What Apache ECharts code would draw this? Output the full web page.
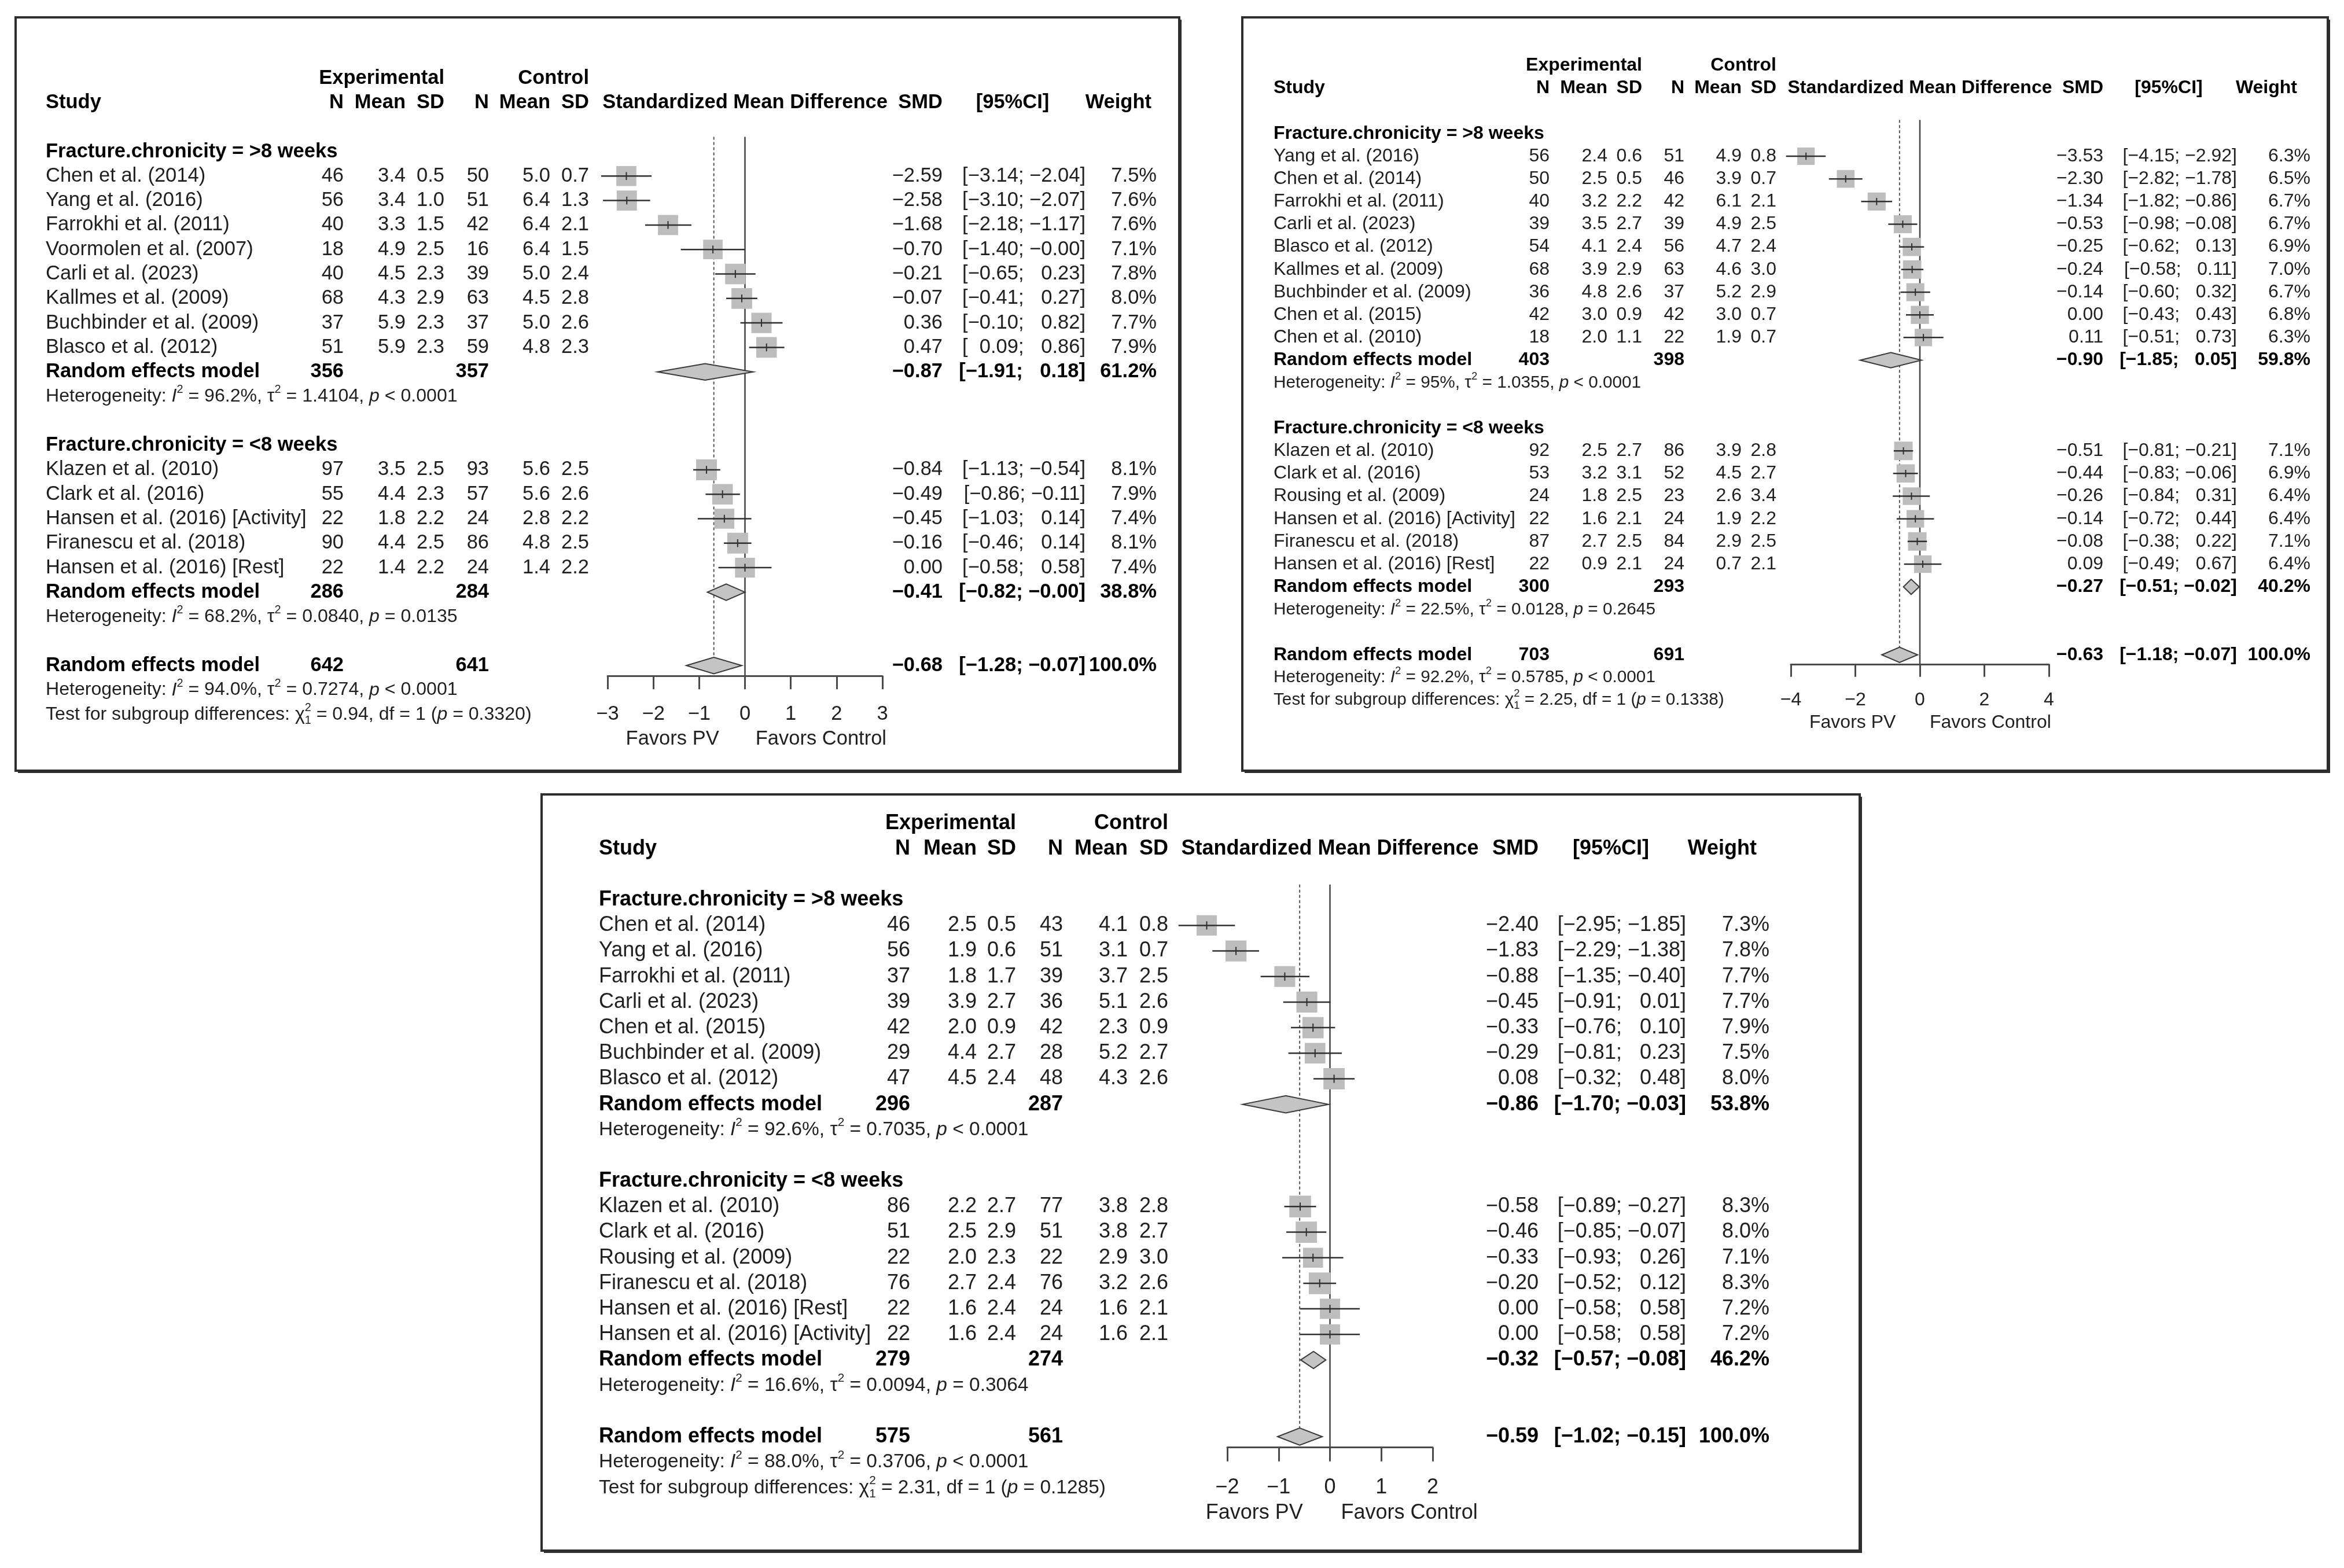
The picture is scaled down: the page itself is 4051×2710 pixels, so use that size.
<!DOCTYPE html>
<html><head><meta charset="utf-8">
<script src="https://cdn.jsdelivr.net/npm/echarts@6/dist/echarts.min.js"></script>
<style>html,body{margin:0;padding:0;background:#fff}#c{width:4051px;height:2710px}</style>
</head><body><div id="c"></div>
<script>
// ================= DATA =================
const subgroupLabels = ['Fracture.chronicity = >8 weeks', 'Fracture.chronicity = <8 weeks'];
const favorsLabels = ['Favors PV', 'Favors Control'];

// ---- Panel 1 (top left) ----
const p1GroupSizes = [8, 5];
const p1Studies = ['Chen et al. (2014)','Yang et al. (2016)','Farrokhi et al. (2011)','Voormolen et al. (2007)','Carli et al. (2023)','Kallmes et al. (2009)','Buchbinder et al. (2009)','Blasco et al. (2012)','Klazen et al. (2010)','Clark et al. (2016)','Hansen et al. (2016) [Activity]','Firanescu et al. (2018)','Hansen et al. (2016) [Rest]'];
const p1ExpN = [46,56,40,18,40,68,37,51,97,55,22,90,22];
const p1ExpMean = [3.4,3.4,3.3,4.9,4.5,4.3,5.9,5.9,3.5,4.4,1.8,4.4,1.4];
const p1ExpSD = [0.5,1.0,1.5,2.5,2.3,2.9,2.3,2.3,2.5,2.3,2.2,2.5,2.2];
const p1CtlN = [50,51,42,16,39,63,37,59,93,57,24,86,24];
const p1CtlMean = [5.0,6.4,6.4,6.4,5.0,4.5,5.0,4.8,5.6,5.6,2.8,4.8,1.4];
const p1CtlSD = [0.7,1.3,2.1,1.5,2.4,2.8,2.6,2.3,2.5,2.6,2.2,2.5,2.2];
const p1SMD = [-2.59,-2.58,-1.68,-0.70,-0.21,-0.07,0.36,0.47,-0.84,-0.49,-0.45,-0.16,0.00];
const p1Lower = [-3.14,-3.10,-2.18,-1.40,-0.65,-0.41,-0.10,0.09,-1.13,-0.86,-1.03,-0.46,-0.58];
const p1Upper = [-2.04,-2.07,-1.17,-0.00,0.23,0.27,0.82,0.86,-0.54,-0.11,0.14,0.14,0.58];
const p1Weight = [7.5,7.6,7.6,7.1,7.8,8.0,7.7,7.9,8.1,7.9,7.4,8.1,7.4];
// summaries: [subgroup 1, subgroup 2, overall]
const p1SumExpN = [356,286,642];
const p1SumCtlN = [357,284,641];
const p1SumSMD = [-0.87,-0.41,-0.68];
const p1SumLower = [-1.91,-0.82,-1.28];
const p1SumUpper = [0.18,-0.00,-0.07];
const p1SumWeight = [61.2,38.8,100.0];
const p1HetI2 = ['96.2%','68.2%','94.0%'];
const p1HetTau2 = ['1.4104','0.0840','0.7274'];
const p1HetP = ['< 0.0001','= 0.0135','< 0.0001'];
const p1TestChi2 = '0.94';
const p1TestP = '0.3320';
const p1AxisRange = [-3, 3, 1];

// ---- Panel 2 (top right) ----
const p2GroupSizes = [9, 6];
const p2Studies = ['Yang et al. (2016)','Chen et al. (2014)','Farrokhi et al. (2011)','Carli et al. (2023)','Blasco et al. (2012)','Kallmes et al. (2009)','Buchbinder et al. (2009)','Chen et al. (2015)','Chen et al. (2010)','Klazen et al. (2010)','Clark et al. (2016)','Rousing et al. (2009)','Hansen et al. (2016) [Activity]','Firanescu et al. (2018)','Hansen et al. (2016) [Rest]'];
const p2ExpN = [56,50,40,39,54,68,36,42,18,92,53,24,22,87,22];
const p2ExpMean = [2.4,2.5,3.2,3.5,4.1,3.9,4.8,3.0,2.0,2.5,3.2,1.8,1.6,2.7,0.9];
const p2ExpSD = [0.6,0.5,2.2,2.7,2.4,2.9,2.6,0.9,1.1,2.7,3.1,2.5,2.1,2.5,2.1];
const p2CtlN = [51,46,42,39,56,63,37,42,22,86,52,23,24,84,24];
const p2CtlMean = [4.9,3.9,6.1,4.9,4.7,4.6,5.2,3.0,1.9,3.9,4.5,2.6,1.9,2.9,0.7];
const p2CtlSD = [0.8,0.7,2.1,2.5,2.4,3.0,2.9,0.7,0.7,2.8,2.7,3.4,2.2,2.5,2.1];
const p2SMD = [-3.53,-2.30,-1.34,-0.53,-0.25,-0.24,-0.14,0.00,0.11,-0.51,-0.44,-0.26,-0.14,-0.08,0.09];
const p2Lower = [-4.15,-2.82,-1.82,-0.98,-0.62,-0.58,-0.60,-0.43,-0.51,-0.81,-0.83,-0.84,-0.72,-0.38,-0.49];
const p2Upper = [-2.92,-1.78,-0.86,-0.08,0.13,0.11,0.32,0.43,0.73,-0.21,-0.06,0.31,0.44,0.22,0.67];
const p2Weight = [6.3,6.5,6.7,6.7,6.9,7.0,6.7,6.8,6.3,7.1,6.9,6.4,6.4,7.1,6.4];
const p2SumExpN = [403,300,703];
const p2SumCtlN = [398,293,691];
const p2SumSMD = [-0.90,-0.27,-0.63];
const p2SumLower = [-1.85,-0.51,-1.18];
const p2SumUpper = [0.05,-0.02,-0.07];
const p2SumWeight = [59.8,40.2,100.0];
const p2HetI2 = ['95%','22.5%','92.2%'];
const p2HetTau2 = ['1.0355','0.0128','0.5785'];
const p2HetP = ['< 0.0001','= 0.2645','< 0.0001'];
const p2TestChi2 = '2.25';
const p2TestP = '0.1338';
const p2AxisRange = [-4, 4, 2];

// ---- Panel 3 (bottom) ----
const p3GroupSizes = [7, 6];
const p3Studies = ['Chen et al. (2014)','Yang et al. (2016)','Farrokhi et al. (2011)','Carli et al. (2023)','Chen et al. (2015)','Buchbinder et al. (2009)','Blasco et al. (2012)','Klazen et al. (2010)','Clark et al. (2016)','Rousing et al. (2009)','Firanescu et al. (2018)','Hansen et al. (2016) [Rest]','Hansen et al. (2016) [Activity]'];
const p3ExpN = [46,56,37,39,42,29,47,86,51,22,76,22,22];
const p3ExpMean = [2.5,1.9,1.8,3.9,2.0,4.4,4.5,2.2,2.5,2.0,2.7,1.6,1.6];
const p3ExpSD = [0.5,0.6,1.7,2.7,0.9,2.7,2.4,2.7,2.9,2.3,2.4,2.4,2.4];
const p3CtlN = [43,51,39,36,42,28,48,77,51,22,76,24,24];
const p3CtlMean = [4.1,3.1,3.7,5.1,2.3,5.2,4.3,3.8,3.8,2.9,3.2,1.6,1.6];
const p3CtlSD = [0.8,0.7,2.5,2.6,0.9,2.7,2.6,2.8,2.7,3.0,2.6,2.1,2.1];
const p3SMD = [-2.40,-1.83,-0.88,-0.45,-0.33,-0.29,0.08,-0.58,-0.46,-0.33,-0.20,0.00,0.00];
const p3Lower = [-2.95,-2.29,-1.35,-0.91,-0.76,-0.81,-0.32,-0.89,-0.85,-0.93,-0.52,-0.58,-0.58];
const p3Upper = [-1.85,-1.38,-0.40,0.01,0.10,0.23,0.48,-0.27,-0.07,0.26,0.12,0.58,0.58];
const p3Weight = [7.3,7.8,7.7,7.7,7.9,7.5,8.0,8.3,8.0,7.1,8.3,7.2,7.2];
const p3SumExpN = [296,279,575];
const p3SumCtlN = [287,274,561];
const p3SumSMD = [-0.86,-0.32,-0.59];
const p3SumLower = [-1.70,-0.57,-1.02];
const p3SumUpper = [-0.03,-0.08,-0.15];
const p3SumWeight = [53.8,46.2,100.0];
const p3HetI2 = ['92.6%','16.6%','88.0%'];
const p3HetTau2 = ['0.7035','0.0094','0.3706'];
const p3HetP = ['< 0.0001','= 0.3064','< 0.0001'];
const p3TestChi2 = '2.31';
const p3TestP = '0.1285';
const p3AxisRange = [-2, 2, 1];

// ================= ASSEMBLY =================
const panelsData = [
  {g:p1GroupSizes, st:p1Studies, eN:p1ExpN, eM:p1ExpMean, eS:p1ExpSD, cN:p1CtlN, cM:p1CtlMean, cS:p1CtlSD, te:p1SMD, lo:p1Lower, up:p1Upper, w:p1Weight,
   sEN:p1SumExpN, sCN:p1SumCtlN, sTE:p1SumSMD, sLo:p1SumLower, sUp:p1SumUpper, sW:p1SumWeight, hI:p1HetI2, hT:p1HetTau2, hP:p1HetP, chi:p1TestChi2, chiP:p1TestP, ax:p1AxisRange},
  {g:p2GroupSizes, st:p2Studies, eN:p2ExpN, eM:p2ExpMean, eS:p2ExpSD, cN:p2CtlN, cM:p2CtlMean, cS:p2CtlSD, te:p2SMD, lo:p2Lower, up:p2Upper, w:p2Weight,
   sEN:p2SumExpN, sCN:p2SumCtlN, sTE:p2SumSMD, sLo:p2SumLower, sUp:p2SumUpper, sW:p2SumWeight, hI:p2HetI2, hT:p2HetTau2, hP:p2HetP, chi:p2TestChi2, chiP:p2TestP, ax:p2AxisRange},
  {g:p3GroupSizes, st:p3Studies, eN:p3ExpN, eM:p3ExpMean, eS:p3ExpSD, cN:p3CtlN, cM:p3CtlMean, cS:p3CtlSD, te:p3SMD, lo:p3Lower, up:p3Upper, w:p3Weight,
   sEN:p3SumExpN, sCN:p3SumCtlN, sTE:p3SumSMD, sLo:p3SumLower, sUp:p3SumUpper, sW:p3SumWeight, hI:p3HetI2, hT:p3HetTau2, hP:p3HetP, chi:p3TestChi2, chiP:p3TestP, ax:p3AxisRange}
];

// layout (pixels)
const W = 4051, H = 2710;
const layouts = [
  {box:[27,30,2038,1332], r0:262, r:42.3, fs:34.5, px:[1050,1525], sq:36, sqRef:8.1,
   col:{study:79, eN:594, eM:701, eS:768, cN:845, cM:951, cS:1018, smd:1629, ci:1876, ciHead:1750, w:1999, wHead:1990}},
  {box:[2147,30,4023,1332], r0:230.8, r:39.17, fs:32, px:[3095,3541], sq:32, sqRef:7.1,
   col:{study:2201, eN:2678, eM:2778, eS:2838, cN:2911, cM:3010, cS:3070, smd:3635, ci:3866, ciHead:3748, w:3993, wHead:3970}},
  {box:[936,1373,3214,2680], r0:1555.2, r:44.18, fs:36, px:[2121,2476], sq:37.5, sqRef:8.3,
   col:{study:1035, eN:1573, eM:1688, eS:1756, cN:1837, cM:1949, cS:2019, smd:2659, ci:2914, ciHead:2784, w:3058, wHead:3036}}
];

const FAM = '"Liberation Sans", Arial, Helvetica, sans-serif';
const MINUS = '\u2212';
const isNeg = v => v < 0 || Object.is(v, -0);
const fmt = (v, d) => (isNeg(v) ? MINUS : '') + Math.abs(v).toFixed(d);
const TXT = '#1f1f1f', BOLD = '#000';
const mctx = document.createElement('canvas').getContext('2d');
function measure(s, size, bold, italic) {
  mctx.font = (italic ? 'italic ' : '') + (bold ? 'bold ' : '') + size + 'px ' + FAM;
  return mctx.measureText(s).width;
}
function segText(ch, x0, y, size, list, align) {
  const items = list.map(sg => {
    const sz = (sg.sup || sg.sub) ? size * 0.62 : size;
    return {sg, sz, w: measure(sg.t, sz, sg.b, sg.it)};
  });
  const total = items.reduce((a, it) => a + (it.sg.stack ? 0 : it.w), 0);
  let x = align === 'right' ? x0 - total : x0;
  for (const it of items) {
    const dy = it.sg.sup ? -size * 0.36 : it.sg.sub ? size * 0.34 : 0;
    if (!it.sg.hidden) ch.push({type:'text', x:x, y:y + dy, silent:true, style:{text:it.sg.t, fontFamily:FAM, fontSize:it.sz,
      fontWeight: it.sg.b ? 'bold' : 'normal', fontStyle: it.sg.it ? 'italic' : 'normal', fill: it.sg.b ? BOLD : TXT, align:'left', verticalAlign:'middle'}});
    if (!it.sg.stack) x += it.w;
  }
}
function rowPlan(g) {
  const plan = {groups: []};
  let row = 0, k = 0;
  for (let gi = 0; gi < g.length; gi++) {
    const grp = {header: row, studies: [], sum: 0, het: 0};
    for (let j = 0; j < g[gi]; j++) grp.studies.push({idx: k++, row: row + 1 + j});
    grp.sum = row + g[gi] + 1;
    grp.het = grp.sum + 1;
    row = grp.het + 2;
    plan.groups.push(grp);
  }
  plan.overall = row; plan.het = row + 1; plan.test = row + 2;
  plan.axis = row + 0.42;
  return plan;
}

function makeRender(D, L, plan) {
  return function (params, api) {
    const ch = [];
    const fs = L.fs, hs = fs * 0.93, r = L.r;
    const X = v => api.coord([v, 0])[0];
    const Y = row => api.coord([D.ax[0], row])[1];
    const T = (x, row, s, o) => {
      o = o || {};
      ch.push({type:'text', x:x, y:Y(row), silent:true, style:{text:s, fontFamily:FAM, fontSize:o.size || fs,
        fontWeight:o.bold ? 'bold' : 'normal', fill:o.bold ? BOLD : TXT, align:o.align || 'right', verticalAlign:'middle'}});
    };
    const C = L.col;
    const ciSegs = (lo, up, b) => [
      {t:'[', b:b}, {t:MINUS, b:b, hidden:!isNeg(lo)}, {t:Math.abs(lo).toFixed(2) + '; ', b:b},
      {t:MINUS, b:b, hidden:!isNeg(up)}, {t:Math.abs(up).toFixed(2) + ']', b:b}];

    // reference lines
    const x0 = X(0), xo = X(D.sTE[2]);
    const dh = 0.67 * r;
    ch.push({type:'line', silent:true, shape:{x1:x0, y1:Y(-0.6), x2:x0, y2:Y(plan.axis)}, style:{stroke:'#444', lineWidth:2.5}});
    ch.push({type:'line', silent:true, shape:{x1:xo, y1:Y(-0.6), x2:xo, y2:Y(plan.overall) - dh / 2}, style:{stroke:'#555', lineWidth:2, lineDash:[5,4]}});

    // headers
    T(C.eS, -3, 'Experimental', {bold:true});
    T(C.cS, -3, 'Control', {bold:true});
    T(C.study, -2, 'Study', {bold:true, align:'left'});
    T(C.eN, -2, 'N', {bold:true}); T(C.eM, -2, 'Mean', {bold:true}); T(C.eS, -2, 'SD', {bold:true});
    T(C.cN, -2, 'N', {bold:true}); T(C.cM, -2, 'Mean', {bold:true}); T(C.cS, -2, 'SD', {bold:true});
    T(X((D.ax[0] + D.ax[1]) / 2), -2, 'Standardized Mean Difference', {bold:true, align:'center'});
    T(C.smd, -2, 'SMD', {bold:true});
    T(C.ciHead, -2, '[95%CI]', {bold:true, align:'center'});
    T(C.wHead, -2, 'Weight', {bold:true});

    const diamond = (te, lo, up, row) => {
      const y = Y(row);
      ch.push({type:'polygon', silent:true, shape:{points:[[X(lo), y], [X(te), y - dh / 2], [X(up), y], [X(te), y + dh / 2]]},
        style:{fill:'#c4c4c4', stroke:'#3a3a3a', lineWidth:2}});
    };
    const summaryText = (k, row, label) => {
      T(C.study, row, label, {bold:true, align:'left'});
      T(C.eN, row, String(D.sEN[k]), {bold:true});
      T(C.cN, row, String(D.sCN[k]), {bold:true});
      T(C.smd, row, fmt(D.sTE[k], 2), {bold:true});
      segText(ch, C.ci, Y(row), fs, ciSegs(D.sLo[k], D.sUp[k], true), 'right');
      T(C.w, row, D.sW[k].toFixed(1) + '%', {bold:true});
    };
    const hetText = (k, row) => segText(ch, C.study, Y(row), hs, [
      {t:'Heterogeneity: '}, {t:'I', it:true}, {t:'2', sup:true}, {t:' = ' + D.hI[k] + ', '},
      {t:'\u03c4'}, {t:'2', sup:true}, {t:' = ' + D.hT[k] + ', '}, {t:'p', it:true}, {t:' ' + D.hP[k]}], 'left');

    plan.groups.forEach((grp, gi) => {
      T(C.study, grp.header, subgroupLabels[gi], {bold:true, align:'left'});
      grp.studies.forEach(s => {
        const i = s.idx, row = s.row, y = Y(row);
        T(C.study, row, D.st[i], {align:'left'});
        T(C.eN, row, String(D.eN[i])); T(C.eM, row, D.eM[i].toFixed(1)); T(C.eS, row, D.eS[i].toFixed(1));
        T(C.cN, row, String(D.cN[i])); T(C.cM, row, D.cM[i].toFixed(1)); T(C.cS, row, D.cS[i].toFixed(1));
        T(C.smd, row, fmt(D.te[i], 2));
        segText(ch, C.ci, y, fs, ciSegs(D.lo[i], D.up[i], false), 'right');
        T(C.w, row, D.w[i].toFixed(1) + '%');
        // marks
        const sz = L.sq * Math.sqrt(D.w[i] / L.sqRef);
        const xt = X(D.te[i]);
        ch.push({type:'rect', silent:true, shape:{x:xt - sz / 2, y:y - sz / 2, width:sz, height:sz}, style:{fill:'#bdbdbd'}});
        ch.push({type:'line', silent:true, shape:{x1:X(D.lo[i]), y1:y, x2:X(D.up[i]), y2:y}, style:{stroke:'#2f2f2f', lineWidth:2.5}});
        ch.push({type:'line', silent:true, shape:{x1:xt, y1:y - 0.16 * r, x2:xt, y2:y + 0.16 * r}, style:{stroke:'#2f2f2f', lineWidth:2}});
      });
      summaryText(gi, grp.sum, 'Random effects model');
      diamond(D.sTE[gi], D.sLo[gi], D.sUp[gi], grp.sum);
      hetText(gi, grp.het);
    });
    summaryText(2, plan.overall, 'Random effects model');
    diamond(D.sTE[2], D.sLo[2], D.sUp[2], plan.overall);
    hetText(2, plan.het);
    segText(ch, C.study, Y(plan.test), hs, [
      {t:'Test for subgroup differences: '}, {t:'\u03c7'}, {t:'2', sup:true, stack:true}, {t:'1', sub:true},
      {t:' = ' + D.chi + ', df = 1 ('}, {t:'p', it:true}, {t:' = ' + D.chiP + ')'}], 'left');

    // favors labels
    T(x0 - 1.3 * fs, plan.test + 1, favorsLabels[0], {align:'right'});
    T(x0 + 0.53 * fs, plan.test + 1, favorsLabels[1], {align:'left'});

    return {type:'group', children:ch};
  };
}

const grids = [], xAxes = [], yAxes = [], series = [], gfx = [];
panelsData.forEach((D, i) => {
  const L = layouts[i];
  const plan = rowPlan(D.g);
  const yMin = -3.5;
  const topPx = L.r0 + L.r * yMin, botPx = L.r0 + L.r * plan.axis;
  grids.push({left:L.px[0], right:W - L.px[1], top:topPx, bottom:H - botPx, containLabel:false, outerBoundsMode:'none', show:false});
  xAxes.push({gridIndex:i, type:'value', min:D.ax[0], max:D.ax[1], interval:D.ax[2], position:'bottom',
    axisLine:{show:true, onZero:false, lineStyle:{color:'#4a4a4a', width:3}},
    axisTick:{show:true, inside:false, length:0.55 * L.r, lineStyle:{color:'#4a4a4a', width:3}},
    axisLabel:{show:true, fontFamily:FAM, fontSize:L.fs, color:TXT, lineHeight:L.fs, showMinLabel:true, showMaxLabel:true,
      margin:(plan.test - plan.axis) * L.r - L.fs / 2, formatter: v => (v < 0 ? MINUS + Math.abs(v) : String(v))},
    splitLine:{show:false}});
  yAxes.push({gridIndex:i, type:'value', inverse:true, min:yMin, max:plan.axis, show:false, splitLine:{show:false}});
  series.push({type:'custom', xAxisIndex:i, yAxisIndex:i, clip:false, silent:true, data:[[0, 0]], renderItem:makeRender(D, L, plan), z:5});
  const [x1, y1, x2, y2] = L.box;
  gfx.push({type:'rect', silent:true, shape:{x:x1, y:y1, width:x2 - x1, height:y2 - y1}, style:{fill:'none', stroke:'#2e2e2e', lineWidth:4}, z:1});
  gfx.push({type:'rect', silent:true, shape:{x:x1 + 4, y:y2 + 1, width:x2 - x1, height:3}, style:{fill:'#2e2e2e'}, z:1});
  gfx.push({type:'rect', silent:true, shape:{x:x2 + 1, y:y1 + 4, width:3, height:y2 - y1}, style:{fill:'#2e2e2e'}, z:1});
});

const chart = echarts.init(document.getElementById('c'), null, {renderer:'canvas', width:W, height:H});
chart.setOption({
  backgroundColor:'#ffffff',
  animation:false,
  tooltip:{show:false},
  grid:grids, xAxis:xAxes, yAxis:yAxes, series:series,
  graphic:{elements:gfx}
});
</script>
</body></html>
